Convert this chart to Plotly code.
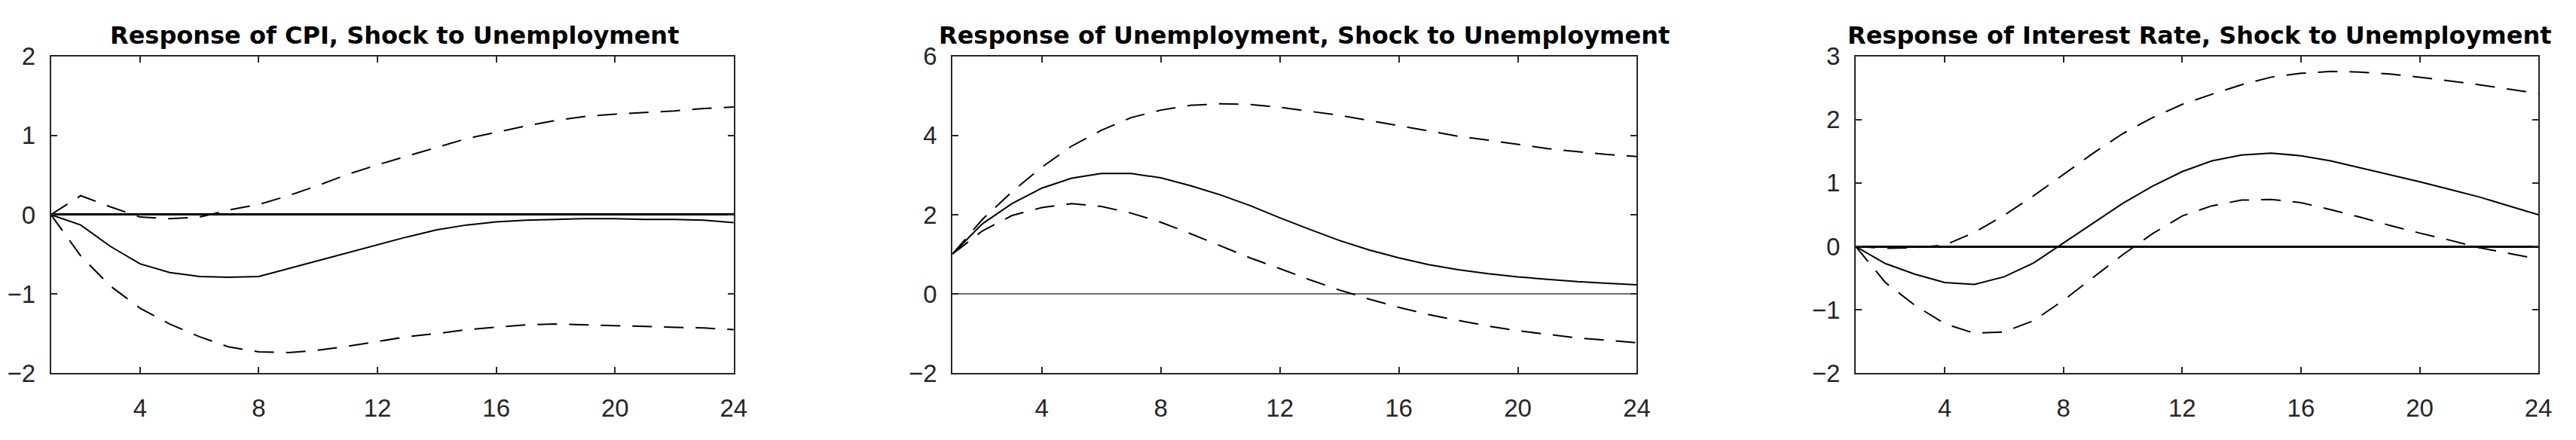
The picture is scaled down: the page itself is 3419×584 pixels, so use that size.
import plotly.graph_objects as go

# the page body keeps its default 8px margin, so the figure is 16px smaller
# than the 3419x584 window and all pixel positions below are page minus 8
PAD = 8
W, H = 3419 - 2 * PAD, 584 - 2 * PAD
AXIS_COLOR = "#262626"
TICK_FONT = "Arial, Liberation Sans, sans-serif"
TITLE_FONT = "DejaVu Sans, Arial, sans-serif"

horizon = list(range(1, 25))
x_ticks = [4, 8, 12, 16, 20, 24]

titles = [
    "Response of CPI, Shock to Unemployment",
    "Response of Unemployment, Shock to Unemployment",
    "Response of Interest Rate, Shock to Unemployment",
]

# CPI response
cpi_mid = [0, -0.13, -0.40, -0.62, -0.73, -0.78, -0.79, -0.78, -0.68, -0.58, -0.48, -0.38,
           -0.28, -0.19, -0.13, -0.09, -0.07, -0.06, -0.05, -0.05, -0.06, -0.06, -0.07, -0.10]
cpi_hi = [0, 0.24, 0.10, -0.03, -0.05, -0.03, 0.06, 0.13, 0.24, 0.37, 0.51, 0.63,
          0.74, 0.85, 0.96, 1.04, 1.12, 1.19, 1.24, 1.27, 1.29, 1.31, 1.34, 1.36]
cpi_lo = [0, -0.52, -0.90, -1.18, -1.38, -1.54, -1.67, -1.73, -1.74, -1.71, -1.66, -1.60,
          -1.54, -1.50, -1.45, -1.42, -1.39, -1.38, -1.39, -1.40, -1.41, -1.42, -1.43, -1.45]

# Unemployment response
unemp_mid = [1.01, 1.77, 2.28, 2.67, 2.92, 3.04, 3.04, 2.93, 2.73, 2.50, 2.23, 1.92,
             1.63, 1.35, 1.11, 0.91, 0.74, 0.61, 0.51, 0.43, 0.37, 0.31, 0.27, 0.23]
unemp_hi = [1.01, 1.88, 2.58, 3.20, 3.73, 4.13, 4.45, 4.64, 4.76, 4.80, 4.78, 4.71,
            4.61, 4.51, 4.38, 4.25, 4.12, 3.98, 3.88, 3.77, 3.67, 3.59, 3.52, 3.47]
unemp_lo = [1.01, 1.59, 1.98, 2.18, 2.28, 2.21, 2.04, 1.81, 1.52, 1.21, 0.91, 0.64,
            0.36, 0.10, -0.13, -0.34, -0.52, -0.67, -0.81, -0.93, -1.02, -1.11, -1.17, -1.23]

# Interest rate response
rate_mid = [0, -0.27, -0.44, -0.57, -0.60, -0.48, -0.26, 0.05, 0.37, 0.68, 0.95, 1.18,
            1.35, 1.44, 1.47, 1.43, 1.35, 1.24, 1.13, 1.02, 0.90, 0.78, 0.64, 0.50]
rate_hi = [0, -0.03, -0.02, 0.02, 0.22, 0.49, 0.80, 1.14, 1.47, 1.78, 2.03, 2.24,
           2.40, 2.55, 2.67, 2.73, 2.76, 2.75, 2.72, 2.67, 2.61, 2.55, 2.48, 2.41]
rate_lo = [0, -0.57, -0.93, -1.22, -1.37, -1.35, -1.17, -0.85, -0.49, -0.13, 0.20, 0.48,
           0.64, 0.73, 0.74, 0.69, 0.58, 0.46, 0.33, 0.21, 0.10, -0.02, -0.11, -0.20]

y_ranges = [[-2, 2], [-2, 6], [-2, 3]]
y_dticks = [1, 2, 1]
zero_colors = ["black", "#6e6e6e", "black"]
zero_widths = [3, 2, 3]

panels = [
    (cpi_mid, cpi_hi, cpi_lo),
    (unemp_mid, unemp_hi, unemp_lo),
    (rate_mid, rate_hi, rate_lo),
]

# axis boxes in window pixels (left, right), shared top/bottom, title centres
x_px = [(68, 979), (1271, 2184), (2476, 3387)]
title_cx = [526, 1740, 2934]
top_px, bottom_px = 60, 510

fig = go.Figure()
layout = dict(
    width=W,
    height=H,
    margin=dict(l=0, r=0, t=0, b=0),
    paper_bgcolor="white",
    plot_bgcolor="white",
    showlegend=False,
    font=dict(family=TICK_FONT, color=AXIS_COLOR),
    annotations=[],
)

for i, (mid, hi, lo) in enumerate(panels):
    n = "" if i == 0 else str(i + 1)
    xa, ya = "x" + n, "y" + n

    for vals, dash in [(hi, "26px,16px"), (lo, "26px,16px"), (mid, "solid")]:
        fig.add_trace(go.Scatter(
            x=horizon, y=vals, mode="lines",
            line=dict(color="black", width=2, dash=dash),
            xaxis=xa, yaxis=ya, hoverinfo="skip",
        ))

    axis_common = dict(
        showline=True, linecolor=AXIS_COLOR, linewidth=2, mirror="ticks",
        ticks="inside", ticklen=8, tickwidth=1.5, tickcolor=AXIS_COLOR,
        showgrid=False, tickfont=dict(size=33, color=AXIS_COLOR, family=TICK_FONT),
    )
    l, r = x_px[i]
    layout["xaxis" + n] = dict(
        axis_common, domain=[(l - PAD) / W, (r - PAD) / W], range=[1, 24],
        tickvals=x_ticks, zeroline=False, anchor=ya, ticklabelstandoff=16,
    )
    layout["yaxis" + n] = dict(
        axis_common, domain=[1 - (bottom_px - PAD) / H, 1 - (top_px - PAD) / H],
        range=y_ranges[i], dtick=y_dticks[i], tick0=0,
        zeroline=True, zerolinecolor=zero_colors[i], zerolinewidth=zero_widths[i],
        anchor=xa, ticklabelstandoff=12,
    )
    layout["annotations"].append(dict(
        text="<b>" + titles[i] + "</b>", xref="paper", yref="paper",
        x=(title_cx[i] - PAD) / W, y=1, xanchor="center", yanchor="top",
        showarrow=False, font=dict(size=32, color="black", family=TITLE_FONT),
    ))

fig.update_layout(**layout)
fig.write_html("out.html")
